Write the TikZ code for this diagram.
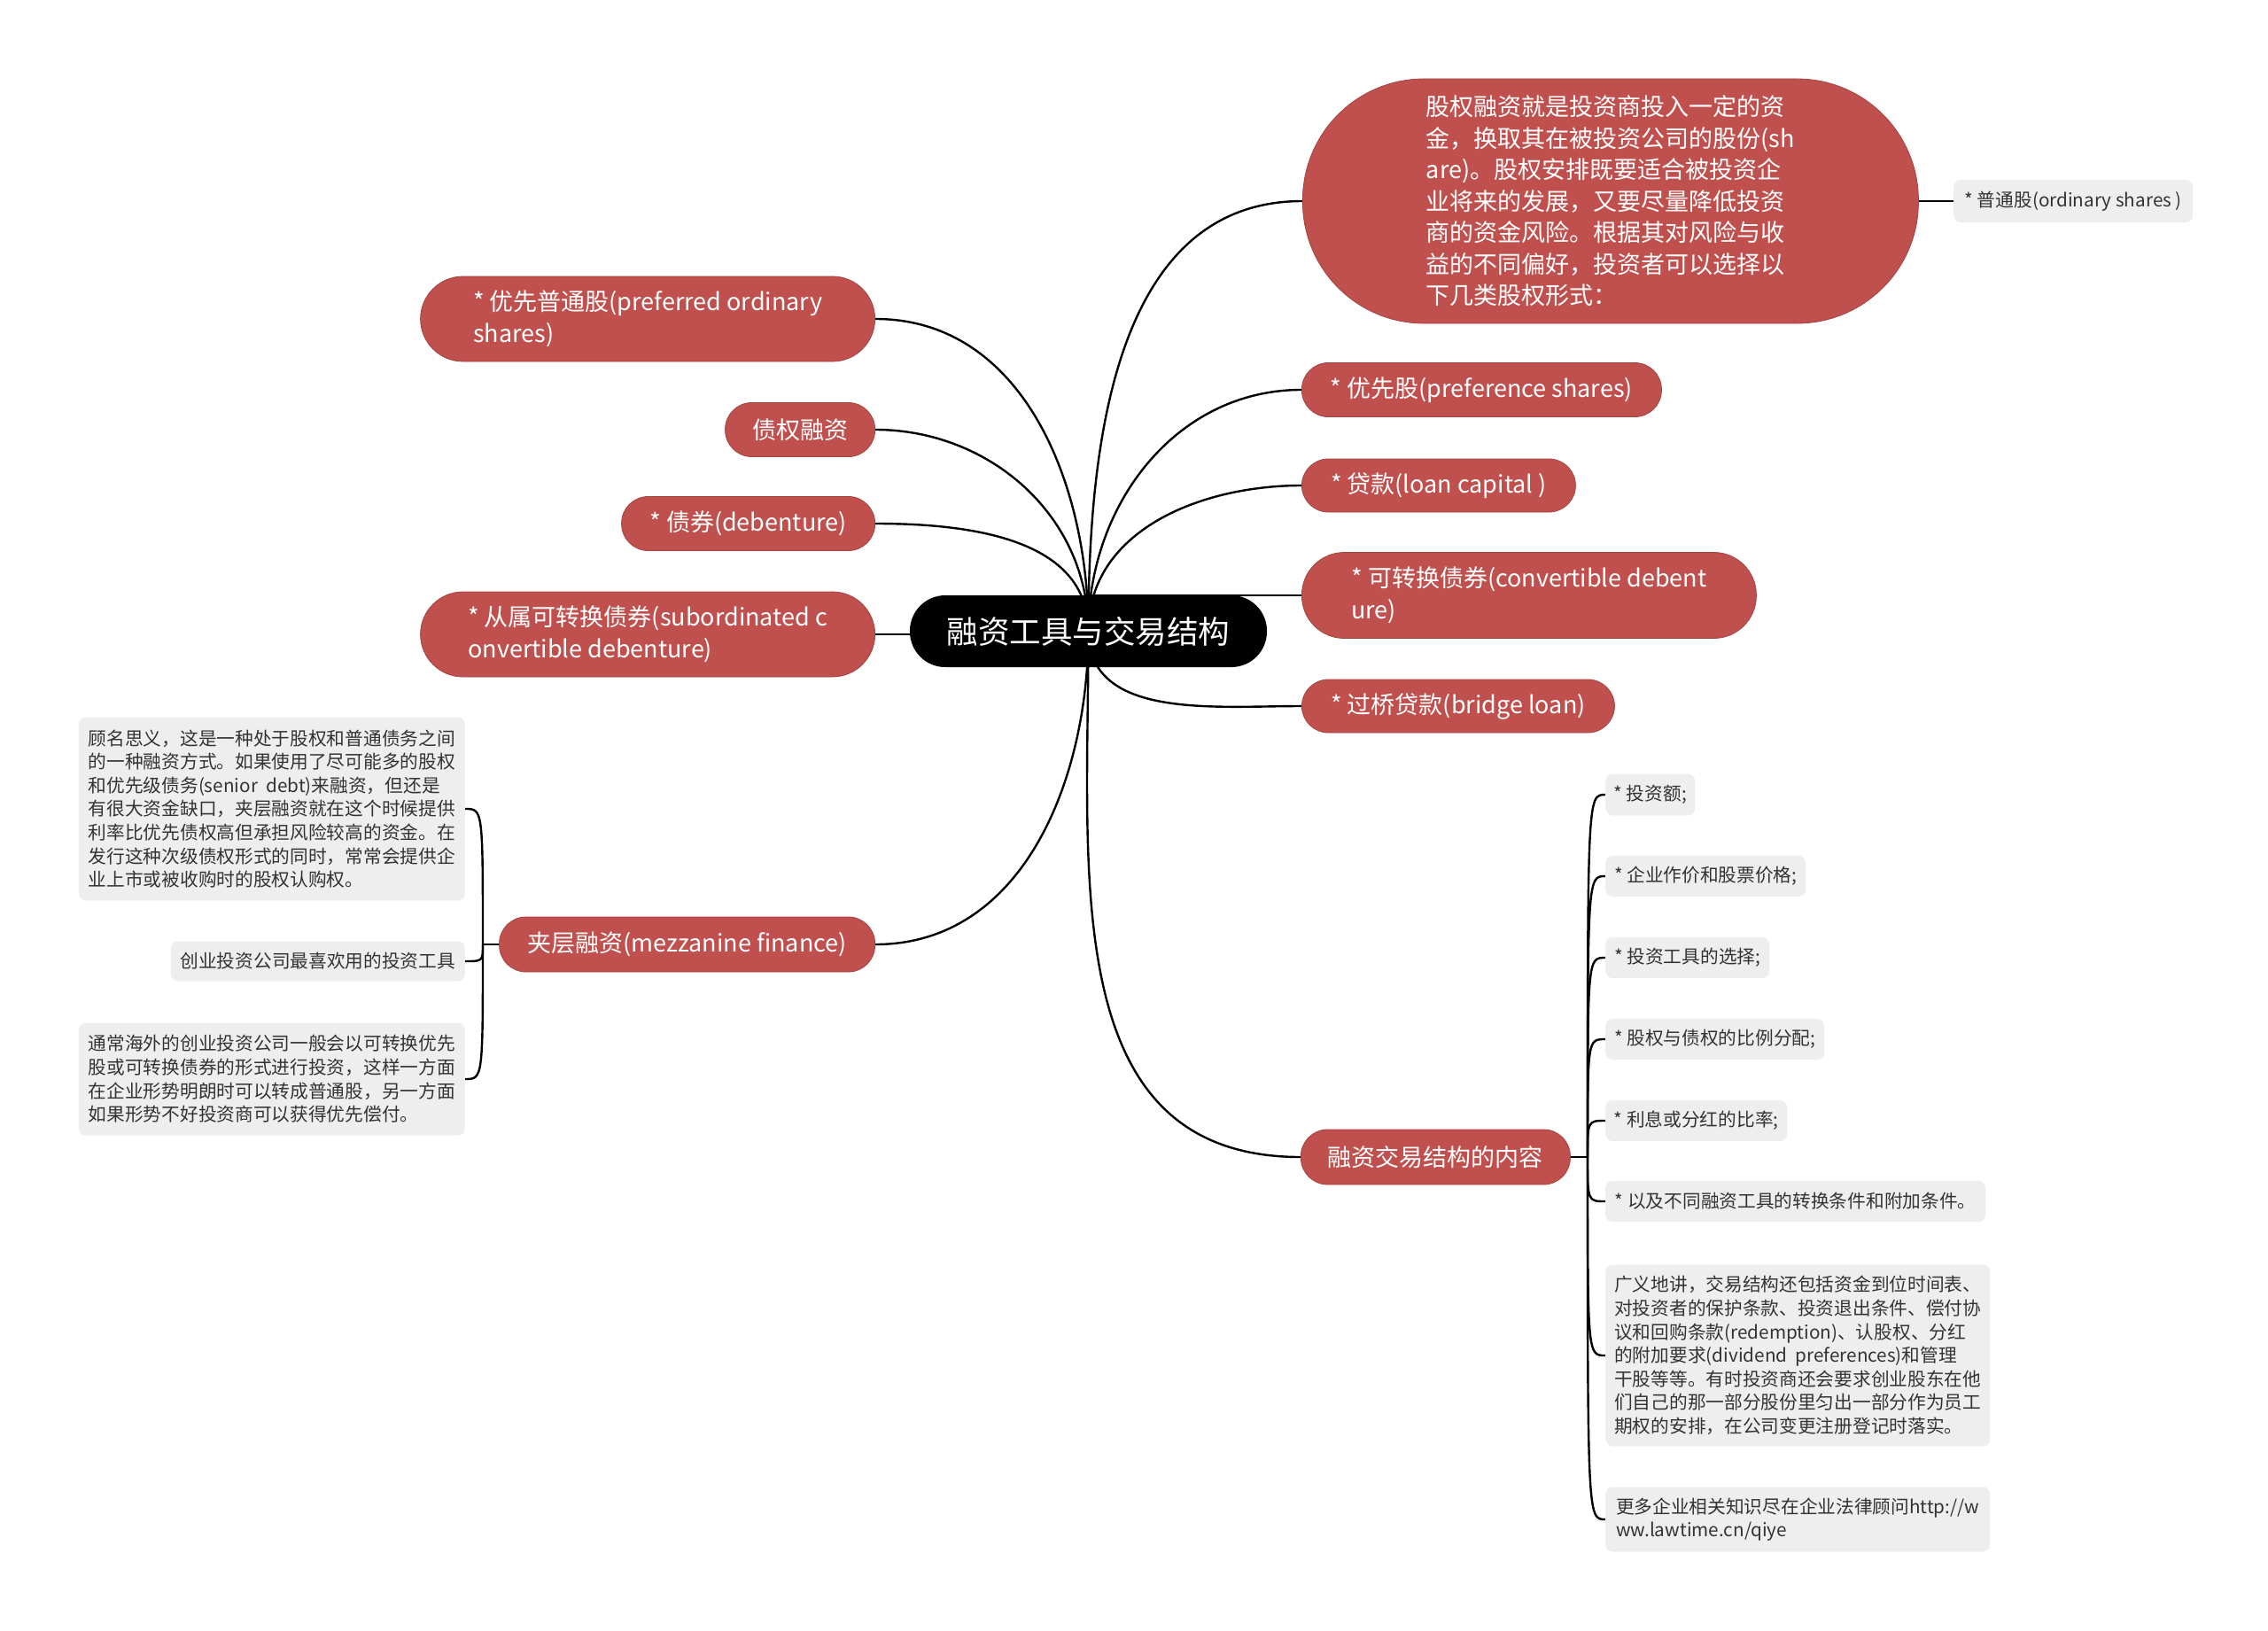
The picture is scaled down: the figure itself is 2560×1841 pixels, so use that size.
\documentclass[tikz,border=0pt]{standalone}
\usepackage{fontspec}
\setmainfont{Noto Sans CJK SC}
\usetikzlibrary{positioning, backgrounds}
\definecolor{topicred}{HTML}{C0504D}
\definecolor{notegray}{HTML}{EEEEEE}
\definecolor{notetext}{HTML}{333333}

\begin{document}
\begin{tikzpicture}[
    x=1pt, y=-1pt,
    root/.style={rectangle, rounded corners=40pt, fill=black, text=white, inner sep=0pt, font=\fontsize{35.5}{44}\selectfont},
    topic/.style={rectangle, rounded corners=30pt, fill=topicred, draw=topicred!85!black, line width=0.8pt, text=white, inner sep=0pt, align=left, font=\fontsize{27}{35.5}\selectfont},
    note/.style={rectangle, rounded corners=8pt, fill=notegray, text=notetext, inner sep=0pt, align=left, font=\fontsize{20.7}{26.6}\selectfont},
    link/.style={line width=2.4pt, black}
]
\useasboundingbox (0,0) rectangle (2560,1841);

% centre
\node[root, minimum width=403pt, minimum height=81pt] (root) at (1228.5,712.5) {融资工具与交易结构};

% left branches
\node[topic, rounded corners=48pt, minimum width=513pt, minimum height=96pt, anchor=east] (prefOrd) at (988,360) {* 优先普通股(preferred ordinary\\shares)};
\node[topic, minimum width=169pt, minimum height=61pt, anchor=east] (debtFin) at (988,485) {债权融资};
\node[topic, minimum width=286pt, minimum height=61pt, anchor=east] (debenture) at (988,591) {* 债券(debenture)};
\node[topic, rounded corners=48pt, minimum width=513pt, minimum height=96pt, anchor=east] (subConv) at (988,716) {* 从属可转换债券(subordinated c\\onvertible debenture)};
\node[topic, minimum width=424pt, minimum height=62pt, anchor=east] (mezz) at (988,1066) {夹层融资(mezzanine finance)};

% right branches
\node[topic, rounded corners=137pt, minimum width=695pt, minimum height=276pt, anchor=west] (equity) at (1470,227) {股权融资就是投资商投入一定的资\\金，换取其在被投资公司的股份(sh\\are)。股权安排既要适合被投资企\\业将来的发展，又要尽量降低投资\\商的资金风险。根据其对风险与收\\益的不同偏好，投资者可以选择以\\下几类股权形式：};
\node[topic, minimum width=406pt, minimum height=61pt, anchor=west] (prefSh) at (1469,440) {* 优先股(preference shares)};
\node[topic, minimum width=309pt, minimum height=60pt, anchor=west] (loan) at (1469,548) {* 贷款(loan capital )};
\node[topic, rounded corners=48pt, minimum width=513pt, minimum height=97pt, anchor=west] (convDeb) at (1469,672) {* 可转换债券(convertible debent\\ure)};
\node[topic, minimum width=353pt, minimum height=60pt, anchor=west] (bridge) at (1469,797) {* 过桥贷款(bridge loan)};
\node[topic, minimum width=304pt, minimum height=62pt, anchor=west] (dealStruct) at (1468,1306) {融资交易结构的内容};

% notes
\node[note, minimum width=270pt, minimum height=48pt, anchor=west] (ordSh) at (2205,227) {* 普通股(ordinary shares )};

\node[note, minimum width=436pt, minimum height=207pt, anchor=east] (mezzA) at (525,913) {顾名思义，这是一种处于股权和普通债务之间\\的一种融资方式。如果使用了尽可能多的股权\\和优先级债务(senior~~debt)来融资，但还是\\有很大资金缺口，夹层融资就在这个时候提供\\利率比优先债权高但承担风险较高的资金。在\\发行这种次级债权形式的同时，常常会提供企\\业上市或被收购时的股权认购权。};
\node[note, minimum width=332pt, minimum height=45pt, anchor=east] (mezzB) at (525,1085) {创业投资公司最喜欢用的投资工具};
\node[note, minimum width=436pt, minimum height=127pt, anchor=east] (mezzC) at (525,1218) {通常海外的创业投资公司一般会以可转换优先\\股或可转换债券的形式进行投资，这样一方面\\在企业形势明朗时可以转成普通股，另一方面\\如果形势不好投资商可以获得优先偿付。};

\node[note, minimum width=101pt, minimum height=47pt, anchor=west] (sAmount) at (1812,897) {* 投资额;};
\node[note, minimum width=226pt, minimum height=46pt, anchor=west] (sValue) at (1812,989) {* 企业作价和股票价格;};
\node[note, minimum width=185pt, minimum height=46pt, anchor=west] (sTool) at (1812,1081) {* 投资工具的选择;};
\node[note, minimum width=247pt, minimum height=46pt, anchor=west] (sRatio) at (1812,1173) {* 股权与债权的比例分配;};
\node[note, minimum width=205pt, minimum height=46pt, anchor=west] (sDividend) at (1812,1265) {* 利息或分红的比率;};
\node[note, minimum width=429pt, minimum height=46pt, anchor=west] (sConvert) at (1812,1356) {* 以及不同融资工具的转换条件和附加条件。};
\node[note, minimum width=434pt, minimum height=205pt, anchor=west] (sBroad) at (1812,1530) {广义地讲，交易结构还包括资金到位时间表、\\对投资者的保护条款、投资退出条件、偿付协\\议和回购条款(redemption)、认股权、分红\\的附加要求(dividend~~preferences)和管理\\干股等等。有时投资商还会要求创业股东在他\\们自己的那一部分股份里匀出一部分作为员工\\期权的安排，在公司变更注册登记时落实。};
\node[note, minimum width=434pt, minimum height=73pt, anchor=west] (sMore) at (1812,1715) {更多企业相关知识尽在企业法律顾问http://w\\ww.lawtime.cn/qiye};

\coordinate (mezzJ) at (545,1066);
\coordinate (dealJ) at (1792,1306);

% connectors behind the nodes
\begin{scope}[on background layer]
  \draw[link] (root.center) to[out=90,in=0] (prefOrd.east);
  \draw[link] (root.center) to[out=90,in=0] (debtFin.east);
  \draw[link] (root.center) to[out=90,in=0] (debenture.east);
  \draw[link] (subConv.east) -- (subConv.east -| root.center);
  \draw[link] (root.center) to[out=-90,in=0] (mezz.east);
  \draw[link] (root.center) to[out=90,in=180] (equity.west);
  \draw[link] (root.center) to[out=90,in=180] (prefSh.west);
  \draw[link] (root.center) to[out=90,in=180] (loan.west);
  \draw[link] (convDeb.west) -- (convDeb.west -| root.center);
  \draw[link] (root.center) to[out=-90,in=180] (bridge.west);
  \draw[link] (root.center) to[out=-90,in=180,looseness=1.1] (dealStruct.west);
  \draw[link] (equity.east) -- (ordSh.west);
  \draw[link] (mezz.west) -- (mezzJ);
  \foreach \n in {mezzA,mezzB,mezzC}
    \draw[link] (mezzJ) .. controls (mezzJ |- \n.east) .. (\n.east);
  \draw[link] (dealStruct.east) -- (dealJ);
  \foreach \n in {sAmount,sValue,sTool,sRatio,sDividend,sConvert,sBroad,sMore}
    \draw[link] (dealJ) .. controls (dealJ |- \n.west) .. (\n.west);
\end{scope}
\end{tikzpicture}
\end{document}
